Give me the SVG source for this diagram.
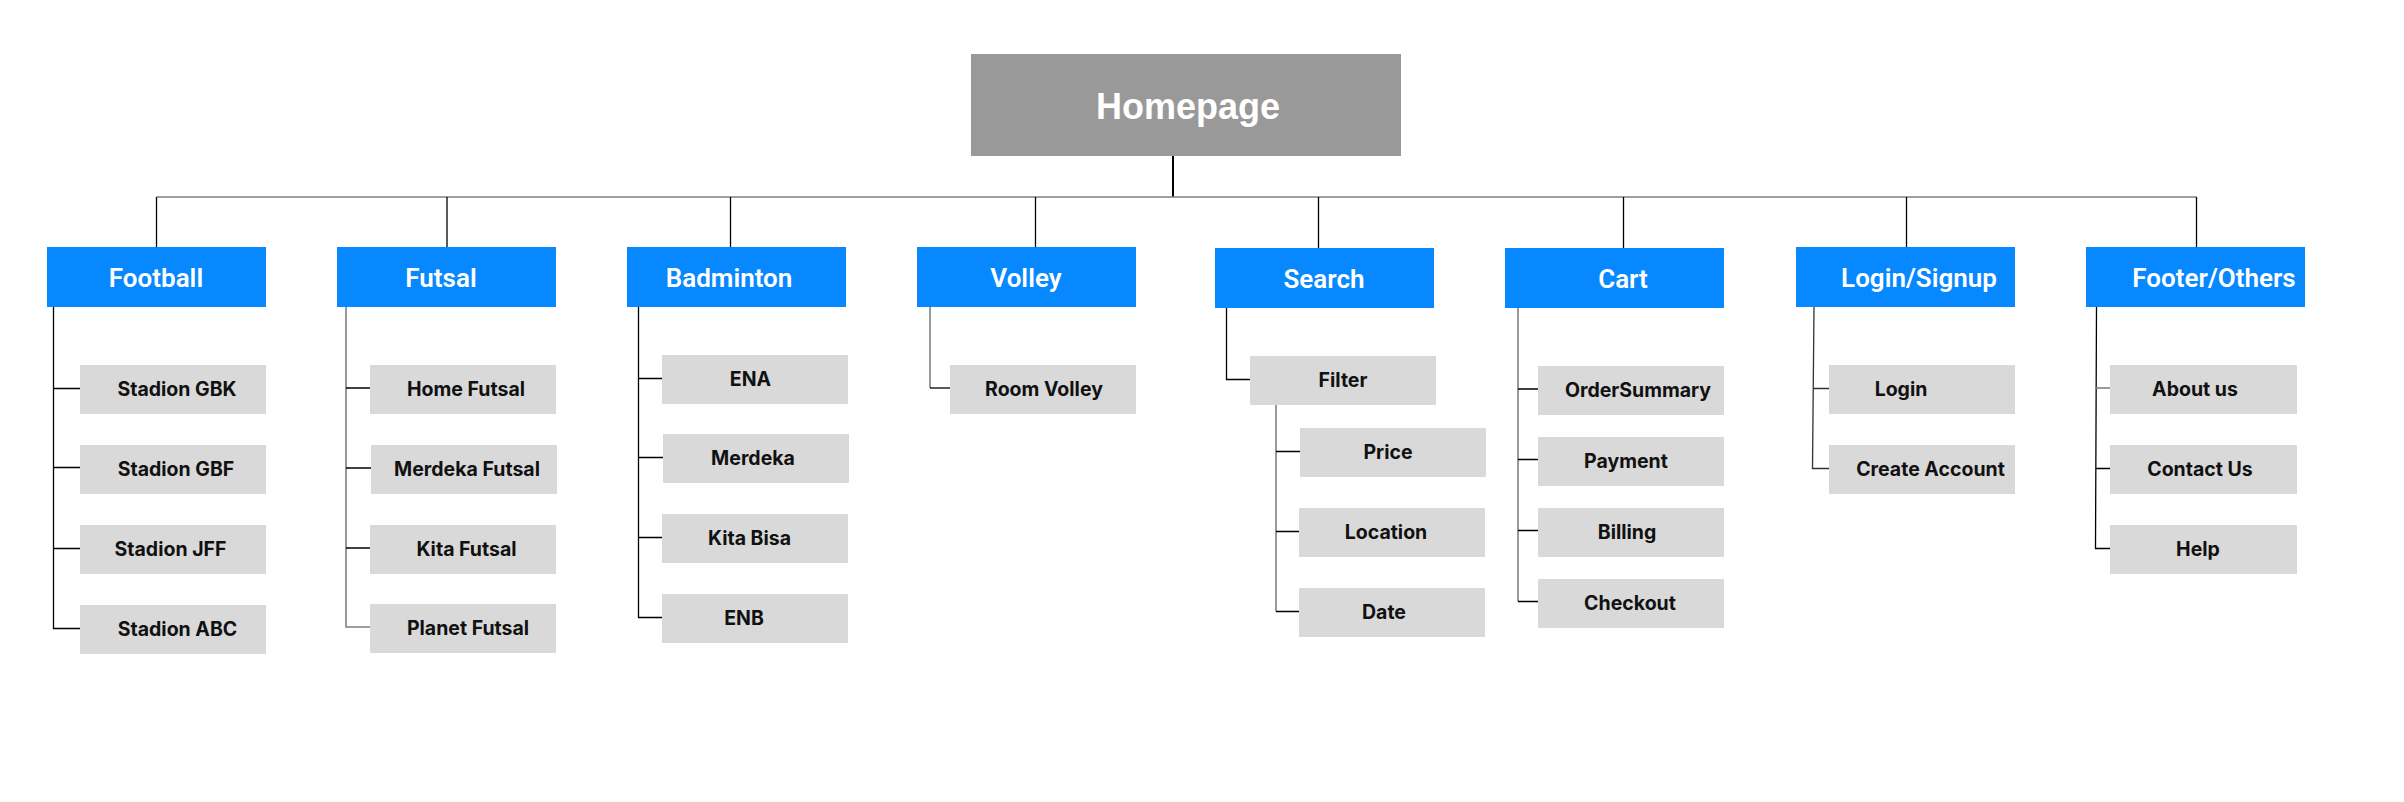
<svg xmlns="http://www.w3.org/2000/svg" width="2404" height="802" viewBox="0 0 2404 802">
<style>
.bg{fill:#ffffff}
.root{fill:#999999}
.hdr{fill:#0788FF}
.leaf{fill:#D9D9D9}
.rt{font-family:"Liberation Sans",Arial,sans-serif;font-weight:700;font-size:36px;fill:#ffffff;text-anchor:middle}
.ht{font-family:Roboto,"Liberation Sans",sans-serif;font-weight:600;font-size:26px;fill:#ffffff;text-anchor:middle}
.lt{font-family:Inter,"Liberation Sans",sans-serif;font-weight:700;font-size:19.5px;fill:#111111;text-anchor:middle}
.k{stroke:#000000;stroke-width:1.3;fill:none}
.g{stroke:#7f7f7f;stroke-width:1.6;fill:none}
</style>
<rect class="bg" x="0" y="0" width="2404" height="802"/>
<g id="connectors">
<line class="k" x1="1173" y1="156" x2="1173" y2="197" style="stroke-width:2"/>
<line class="g" x1="156.5" y1="197" x2="2196.5" y2="197"/>
<line class="k" x1="156.5" y1="197" x2="156.5" y2="247"/>
<line class="k" x1="447" y1="197" x2="447" y2="247"/>
<line class="k" x1="730.5" y1="197" x2="730.5" y2="247"/>
<line class="k" x1="1035.5" y1="197" x2="1035.5" y2="247"/>
<line class="k" x1="1318.5" y1="197" x2="1318.5" y2="248"/>
<line class="k" x1="1623.5" y1="197" x2="1623.5" y2="248"/>
<line class="k" x1="1906.5" y1="197" x2="1906.5" y2="247"/>
<line class="k" x1="2196.5" y1="197" x2="2196.5" y2="247"/>
<path class="k" d="M53.5 307 V628.5 H80 M53.5 388.5 H80 M53.5 467.5 H80 M53.5 548.5 H80"/>
<path class="g" d="M346 307 V627 H370"/>
<path class="k" d="M346 388 H370 M346 468 H374 M346 548 H373"/>
<path class="k" d="M638.5 307 V617.5 H662 M638.5 378.5 H662 M638.5 457.5 H666 M638.5 537.5 H665"/>
<path class="g" d="M930 307 V388"/>
<path class="k" d="M930 388 H950"/>
<path class="k" d="M1226.5 308 V379.5 H1250"/>
<path class="g" d="M1276 405 V611.5"/>
<path class="k" d="M1276 451.5 H1303 M1276 531.5 H1299 M1276 611.5 H1299"/>
<path class="g" d="M1518 308 V601.5"/>
<path class="k" d="M1518 389 H1538 M1518 459.5 H1538 M1518 530.5 H1538 M1518 601.5 H1538"/>
<path class="k" d="M1814 307 L1812.5 468.5 H1829 M1813.5 388.5 H1829" style="stroke:#333"/>
<path class="k" d="M2096.5 307 L2095.5 548.5 H2110 M2095.5 468.5 H2110"/>
<path class="g" d="M2096 388 H2110"/>
</g>
<g id="homepage"><rect class="root" x="971" y="54" width="430" height="102"/><text class="rt" x="1188" y="119">Homepage</text></g>
<g id="football"><rect class="hdr" x="47" y="247" width="219" height="60"/><text class="ht" x="156" y="286.5">Football</text></g>
<g id="futsal"><rect class="hdr" x="337" y="247" width="219" height="60"/><text class="ht" x="441" y="286.5">Futsal</text></g>
<g id="badminton"><rect class="hdr" x="627" y="247" width="219" height="60"/><text class="ht" x="729" y="286.5">Badminton</text></g>
<g id="volley"><rect class="hdr" x="917" y="247" width="219" height="60"/><text class="ht" x="1026" y="286.5">Volley</text></g>
<g id="search"><rect class="hdr" x="1215" y="248" width="219" height="60"/><text class="ht" x="1324" y="287.5">Search</text></g>
<g id="cart"><rect class="hdr" x="1505" y="248" width="219" height="60"/><text class="ht" x="1623" y="287.5">Cart</text></g>
<g id="login-signup"><rect class="hdr" x="1796" y="247" width="219" height="60"/><text class="ht" x="1919" y="286.5">Login/Signup</text></g>
<g id="footer-others"><rect class="hdr" x="2086" y="247" width="219" height="60"/><text class="ht" x="2214" y="286.5">Footer/Others</text></g>

<g id="stadion-gbk"><rect class="leaf" x="80" y="365" width="186" height="49"/><text class="lt" x="177" y="396">Stadion GBK</text></g>
<g id="stadion-gbf"><rect class="leaf" x="80" y="445" width="186" height="49"/><text class="lt" x="176" y="476">Stadion GBF</text></g>
<g id="stadion-jff"><rect class="leaf" x="80" y="525" width="186" height="49"/><text class="lt" x="170.5" y="556">Stadion JFF</text></g>
<g id="stadion-abc"><rect class="leaf" x="80" y="605" width="186" height="49"/><text class="lt" x="177.5" y="636">Stadion ABC</text></g>

<g id="home-futsal"><rect class="leaf" x="370" y="365" width="186" height="49"/><text class="lt" x="466" y="396">Home Futsal</text></g>
<g id="merdeka-futsal"><rect class="leaf" x="371" y="445" width="186" height="49"/><text class="lt" x="467" y="476">Merdeka Futsal</text></g>
<g id="kita-futsal"><rect class="leaf" x="370" y="525" width="186" height="49"/><text class="lt" x="466.5" y="556">Kita Futsal</text></g>
<g id="planet-futsal"><rect class="leaf" x="370" y="604" width="186" height="49"/><text class="lt" x="468" y="635">Planet Futsal</text></g>

<g id="ena"><rect class="leaf" x="662" y="355" width="186" height="49"/><text class="lt" x="750.5" y="386">ENA</text></g>
<g id="merdeka"><rect class="leaf" x="663" y="434" width="186" height="49"/><text class="lt" x="753" y="465">Merdeka</text></g>
<g id="kita-bisa"><rect class="leaf" x="662" y="514" width="186" height="49"/><text class="lt" x="749.5" y="545">Kita Bisa</text></g>
<g id="enb"><rect class="leaf" x="662" y="594" width="186" height="49"/><text class="lt" x="744" y="625">ENB</text></g>

<g id="room-volley"><rect class="leaf" x="950" y="365" width="186" height="49"/><text class="lt" x="1044" y="396">Room Volley</text></g>

<g id="filter"><rect class="leaf" x="1250" y="356" width="186" height="49"/><text class="lt" x="1343" y="387">Filter</text></g>
<g id="price"><rect class="leaf" x="1300" y="428" width="186" height="49"/><text class="lt" x="1388" y="459">Price</text></g>
<g id="location"><rect class="leaf" x="1299" y="508" width="186" height="49"/><text class="lt" x="1386" y="539">Location</text></g>
<g id="date"><rect class="leaf" x="1299" y="588" width="186" height="49"/><text class="lt" x="1384" y="619">Date</text></g>

<g id="ordersummary"><rect class="leaf" x="1538" y="366" width="186" height="49"/><text class="lt" x="1638" y="397">OrderSummary</text></g>
<g id="payment"><rect class="leaf" x="1538" y="437" width="186" height="49"/><text class="lt" x="1626" y="468">Payment</text></g>
<g id="billing"><rect class="leaf" x="1538" y="508" width="186" height="49"/><text class="lt" x="1627" y="539">Billing</text></g>
<g id="checkout"><rect class="leaf" x="1538" y="579" width="186" height="49"/><text class="lt" x="1630" y="610">Checkout</text></g>

<g id="login"><rect class="leaf" x="1829" y="365" width="186" height="49"/><text class="lt" x="1901" y="396">Login</text></g>
<g id="create-account"><rect class="leaf" x="1829" y="445" width="186" height="49"/><text class="lt" x="1930.5" y="476">Create Account</text></g>

<g id="about-us"><rect class="leaf" x="2110" y="365" width="187" height="49"/><text class="lt" x="2195" y="396">About us</text></g>
<g id="contact-us"><rect class="leaf" x="2110" y="445" width="187" height="49"/><text class="lt" x="2200" y="476">Contact Us</text></g>
<g id="help"><rect class="leaf" x="2110" y="525" width="187" height="49"/><text class="lt" x="2198" y="556">Help</text></g>
</svg>
